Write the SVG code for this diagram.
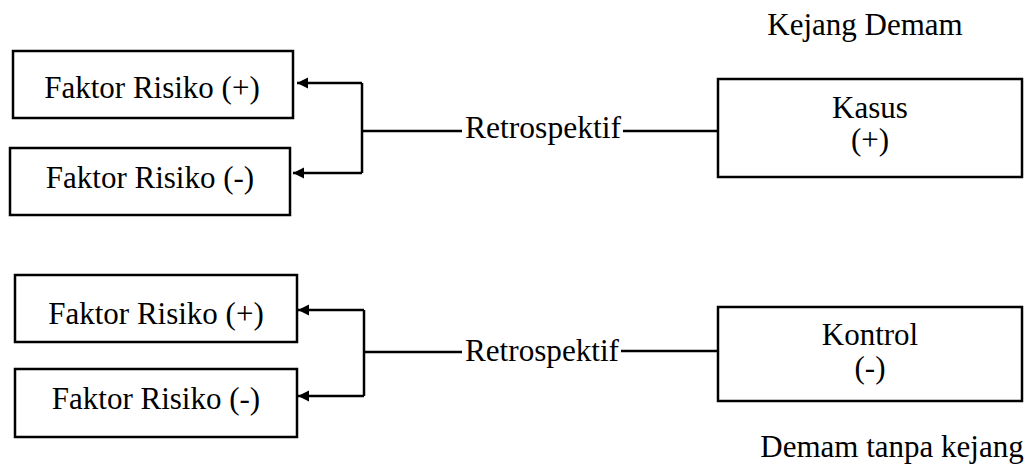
<svg xmlns="http://www.w3.org/2000/svg" width="1028" height="473" viewBox="0 0 1028 473">
<style>
.t{font-family:'Liberation Serif','Times New Roman',serif;font-size:31px;fill:#000}
.c{text-anchor:middle}
.box{fill:#fff;stroke:#000;stroke-width:2.5}
.ln{fill:none;stroke:#000;stroke-width:2.5}
</style>
<defs>
<marker id="ah" markerWidth="12" markerHeight="12" refX="11" refY="5.5" orient="auto" markerUnits="userSpaceOnUse">
<path d="M0,0 L11,5.5 L0,11 Z" fill="#000"/>
</marker>
</defs>
<rect width="1028" height="473" fill="#fff"/>
<g id="connectors">
<path class="ln" d="M362,83 V173"/>
<path class="ln" d="M362,83 H297" marker-end="url(#ah)"/>
<path class="ln" d="M362,173 H293" marker-end="url(#ah)"/>
<path class="ln" d="M362,131 H462 M623,131 H718"/>
<path class="ln" d="M364,310 V396"/>
<path class="ln" d="M364,310 H298" marker-end="url(#ah)"/>
<path class="ln" d="M364,396 H298" marker-end="url(#ah)"/>
<path class="ln" d="M364,352 H462 M621,351 H718"/>
<text class="t" x="465" y="138" textLength="156" lengthAdjust="spacingAndGlyphs">Retrospektif</text>
<text class="t" x="465" y="361" textLength="154" lengthAdjust="spacingAndGlyphs">Retrospektif</text>
</g>
<g id="fr1p"><rect class="box" x="13" y="51" width="280" height="67"/><text class="t c" x="152" y="98">Faktor Risiko (+)</text></g>
<g id="fr1m"><rect class="box" x="10" y="148" width="280" height="67"/><text class="t c" x="150" y="188">Faktor Risiko (-)</text></g>
<g id="fr2p"><rect class="box" x="15" y="275" width="282" height="67"/><text class="t c" x="156" y="324">Faktor Risiko (+)</text></g>
<g id="fr2m"><rect class="box" x="15" y="369" width="282" height="68"/><text class="t c" x="156" y="409">Faktor Risiko (-)</text></g>
<g id="kasus"><rect class="box" x="718" y="79" width="304" height="98"/><text class="t c" x="870" y="118">Kasus</text><text class="t c" x="870" y="150">(+)</text></g>
<g id="kontrol"><rect class="box" x="718" y="307" width="304" height="94"/><text class="t c" x="870" y="345">Kontrol</text><text class="t c" x="870" y="378">(-)</text></g>
<g id="labels">
<text class="t c" x="865" y="35">Kejang Demam</text>
<text class="t c" x="892" y="457">Demam tanpa kejang</text>
</g>
</svg>
